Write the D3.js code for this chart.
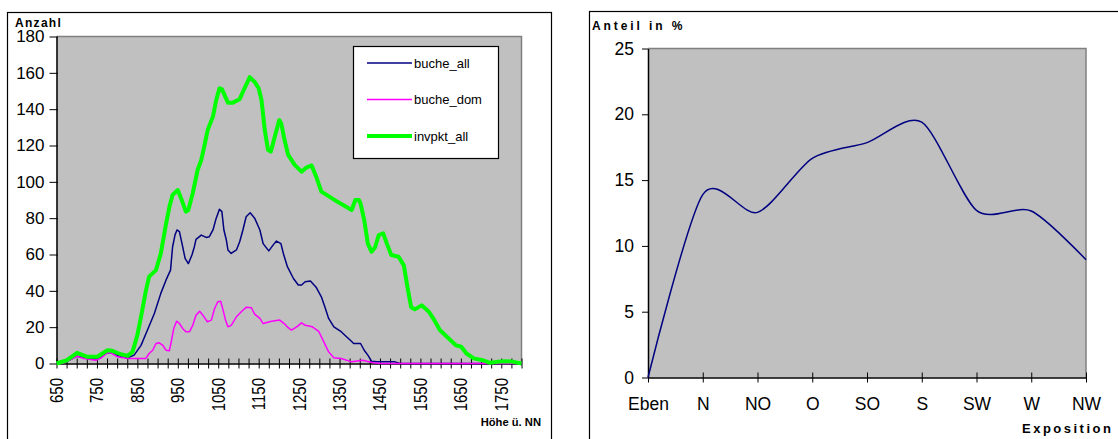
<!DOCTYPE html>
<html>
<head>
<meta charset="utf-8">
<script src="https://cdn.jsdelivr.net/npm/d3@7"></script>
<style>
  body { margin: 0; background: #fff; }
  text { font-family: Arial, "Liberation Sans", sans-serif; }
</style>
</head>
<body>
<svg id="chart" width="1118" height="439"></svg>
<script>
// left chart: Höhe ü. NN vs Anzahl
let allAlt = [650,675,700,725,750,775,790,805,826,842,859,875,892,908,921,932,937,943,948,954,962,968,976,985,991,995,1008,1020,1028,1037,1045,1053,1059,1064,1070,1074,1082,1095,1103,1111,1119,1129,1140,1153,1161,1175,1186,1194,1205,1211,1221,1236,1248,1256,1265,1278,1292,1305,1314,1323,1336,1354,1376,1385,1402,1411,1420,1429,1442,1487,1500,1800];
let allN = [0,1,4,3,2.5,5.8,6,4,3.2,4.6,10,18.4,27.5,38.6,46,51.4,64,70.7,73.5,72.6,64.3,57.9,55,59.7,64.3,68.3,70.7,69.4,69.8,73.5,80,84.9,83.6,73.5,68,62.5,60.6,62.5,67,73.5,80.8,83,80,73.5,66,62,65.3,67.4,66,60.6,53.3,46.8,43.2,43.2,45,45.4,42,36.7,31,24.8,20.2,17.5,12.9,11,11,7.3,4.6,1.3,0.9,0.9,0,0];

let domAlt = [650,668,701,718,747,759,776,784,801,826,871,879,888,896,904,913,921,929,933,940,947,954,962,970,979,987,995,1004,1012,1023,1033,1041,1049,1056,1062,1068,1074,1082,1095,1107,1119,1132,1140,1153,1161,1182,1202,1213,1223,1231,1244,1256,1265,1283,1299,1309,1323,1336,1354,1380,1407,1433,1451,1800];
let domN = [0,0.4,4,2.8,1.8,2.8,5.9,5.9,3.7,2.8,2.8,5.5,7.3,11,11.4,10,7.3,7,11,19.3,23.3,22,19.3,17.5,17.5,21,26.6,28.8,26.6,23,23.9,30.3,34,34.3,29.4,23.9,20.2,21,25.7,28.5,30.9,30.7,27.2,24.8,22,23.3,23.9,22,19.7,18.4,20.2,22.4,21,20.2,17.5,12.9,6.4,3.1,2.8,0.9,1.8,0.4,0,0];

let invAlt = [650,676,701,726,751,776,788,809,826,838,850,859,871,879,896,908,921,929,937,950,958,970,976,987,999,1008,1016,1024,1037,1045,1053,1059,1074,1086,1103,1115,1128,1140,1150,1157,1165,1173,1180,1190,1201,1206,1214,1223,1239,1256,1269,1281,1292,1305,1318,1345,1380,1389,1398,1402,1411,1420,1429,1438,1447,1458,1467,1478,1496,1509,1518,1527,1536,1553,1571,1584,1598,1620,1638,1651,1664,1682,1704,1722,1740,1762,1780,1800];
let invN = [0,1.8,5.9,3.7,3.7,7.3,7,5.1,4.2,6.4,15.6,25.7,40,47.8,51.4,60.6,77,86,92.8,95.5,91,83.6,84.5,93.7,106.5,112,120,128.6,136,145,151.5,151,143.6,143.6,145.5,151.5,157.6,155,151.5,145,128.6,117.6,116.6,125,134,132,123,114.8,109.3,105.6,108,109,103,94.6,92.8,89,84.5,90,90,88,79,66,61.5,64,70.7,71.6,66,59.7,58.8,54,42,31,29.8,32,28.5,24,18.4,13.8,10,9.2,5.5,2.8,1.8,0.4,0.9,1.3,0.9,0];

let leftYTicks = [0,20,40,60,80,100,120,140,160,180];
let leftXLabels = [650,750,850,950,1050,1150,1250,1350,1450,1550,1650,1750];

// right chart: Exposition vs Anteil in %
let expCats = ["Eben","N","NO","O","SO","S","SW","W","NW"];
let expShare = [0,13.9,12.55,16.65,17.85,19.4,12.7,12.65,8.95];
let rightYTicks = [0,5,10,15,20,25];

const svg = d3.select("#chart");

// ---------- left chart ----------
const L = { left: 56.5, right: 521.5, top: 36.5, bottom: 363.5 };

svg.append("rect")
  .attr("x", 7.5).attr("y", 12.5)
  .attr("width", 544).attr("height", 440)
  .attr("fill", "none").attr("stroke", "#000").attr("stroke-width", 1.2);

let xL = d3.scaleLinear().domain([650, 1800]).range([L.left, L.right]);
let yL = d3.scaleLinear().domain([0, 180]).range([L.bottom, L.top]);

svg.append("rect")
  .attr("x", L.left).attr("y", L.top)
  .attr("width", L.right - L.left).attr("height", L.bottom - L.top)
  .attr("fill", "#c0c0c0");
svg.append("path")
  .attr("d", `M${L.left},${L.top}H${L.right}V${L.bottom}`)
  .attr("fill", "none").attr("stroke", "#808080").attr("stroke-width", 1.5);

let yAxisL = svg.append("g")
  .attr("transform", `translate(${L.left},0)`)
  .call(d3.axisLeft(yL).tickValues(leftYTicks).tickSizeInner(7).tickSizeOuter(0).tickPadding(5));
yAxisL.selectAll("text").attr("font-size", 17).attr("font-family", "Arial, 'Liberation Sans'").attr("fill", "#000");
yAxisL.selectAll("line").attr("x2", -7).attr("x1", 1.5);

let xAxisL = svg.append("g")
  .attr("transform", `translate(0,${L.bottom})`)
  .call(d3.axisBottom(xL).tickValues(d3.range(650, 1801, 25)).tickSizeInner(5).tickSizeOuter(0).tickFormat(""));
xAxisL.selectAll("line").attr("y1", -5).attr("y2", 5);
svg.selectAll(".domain").attr("stroke", "#000").attr("stroke-width", 1.5);

svg.append("clipPath").attr("id", "lblclip")
  .append("rect").attr("x", 0).attr("y", 0).attr("width", 560).attr("height", 414);

svg.append("g").attr("clip-path", "url(#lblclip)")
  .selectAll("text.xl")
  .data(leftXLabels)
  .enter()
  .append("text")
  .attr("class", "xl")
  .attr("transform", d => `translate(${xL(d) + 6.5},378) scale(1.25,1) rotate(-90)`)
  .attr("text-anchor", "end")
  .attr("font-size", 15)
  .text(d => d);

svg.append("text")
  .attr("x", 15).attr("y", 26.5)
  .attr("font-size", 12).attr("font-weight", "bold").attr("letter-spacing", 1.3)
  .text("Anzahl");
svg.append("text")
  .attr("x", 541).attr("y", 426)
  .attr("text-anchor", "end")
  .attr("font-size", 11.2).attr("font-weight", "bold")
  .text("Höhe ü. NN");

let series = [
  { name: "buche_all", alt: allAlt, n: allN, color: "#000080", width: 1.5 },
  { name: "buche_dom", alt: domAlt, n: domN, color: "#ff00ff", width: 1.5 },
  { name: "invpkt_all", alt: invAlt, n: invN, color: "#00ff00", width: 4 }
];

let lineL = d3.line()
  .x(d => xL(d[0]))
  .y(d => yL(d[1]));

svg.append("g")
  .selectAll("path")
  .data(series)
  .enter()
  .append("path")
  .attr("d", s => lineL(d3.zip(s.alt, s.n)))
  .attr("fill", "none")
  .attr("stroke", s => s.color)
  .attr("stroke-width", s => s.width)
  .attr("stroke-linejoin", "round");

let legend = svg.append("g");
legend.append("rect")
  .attr("x", 353.5).attr("y", 46.5).attr("width", 145).attr("height", 112)
  .attr("fill", "#fff").attr("stroke", "#000").attr("stroke-width", 1.2);
let item = legend.selectAll("g.item")
  .data(series)
  .enter()
  .append("g")
  .attr("transform", (d, i) => `translate(0,${63 + i * 36.5})`);
item.append("line")
  .attr("x1", 367).attr("x2", 412)
  .attr("stroke", d => d.color).attr("stroke-width", d => d.width);
item.append("text")
  .attr("x", 414).attr("y", 4.5)
  .attr("font-size", 13)
  .text(d => d.name);

// ---------- right chart ----------
const R = { left: 648, right: 1086, top: 48.5, bottom: 377.5 };

svg.append("rect")
  .attr("x", 589.5).attr("y", 11.5)
  .attr("width", 600).attr("height", 440)
  .attr("fill", "none").attr("stroke", "#000").attr("stroke-width", 1.2);

let xR = d3.scalePoint().domain(expCats).range([R.left, R.right]);
let yR = d3.scaleLinear().domain([0, 25]).range([R.bottom, R.top]);

svg.append("rect")
  .attr("x", R.left).attr("y", R.top)
  .attr("width", R.right - R.left).attr("height", R.bottom - R.top)
  .attr("fill", "#c0c0c0");
svg.append("path")
  .attr("d", `M${R.left},${R.top}H${R.right}V${R.bottom}`)
  .attr("fill", "none").attr("stroke", "#808080").attr("stroke-width", 1.5);

let yAxisR = svg.append("g")
  .attr("transform", `translate(${R.left},0)`)
  .call(d3.axisLeft(yR).tickValues(rightYTicks).tickSizeInner(6).tickSizeOuter(0).tickPadding(8));
yAxisR.selectAll("text").attr("font-size", 17.5).attr("font-family", "Arial, 'Liberation Sans'").attr("fill", "#000");

let xAxisR = svg.append("g")
  .attr("transform", `translate(0,${R.bottom})`)
  .call(d3.axisBottom(xR).tickSizeInner(5).tickSizeOuter(0).tickPadding(15));
xAxisR.selectAll("line").attr("y1", -5).attr("y2", 5);
xAxisR.selectAll("text").attr("font-size", 17.5).attr("font-family", "Arial, 'Liberation Sans'").attr("fill", "#000");
svg.selectAll(".domain").attr("stroke", "#000").attr("stroke-width", 1.5);

svg.append("text")
  .attr("x", 592).attr("y", 30)
  .attr("font-size", 12).attr("font-weight", "bold").attr("letter-spacing", 2.9)
  .text("Anteil in %");
svg.append("text")
  .attr("x", 1022).attr("y", 433)
  .attr("font-size", 13).attr("font-weight", "bold").attr("letter-spacing", 2.5)
  .text("Exposition");

let lineR = d3.line()
  .x(d => xR(d[0]))
  .y(d => yR(d[1]))
  .curve(d3.curveCardinal.tension(0.2));

svg.append("path")
  .attr("d", lineR(d3.zip(expCats, expShare)))
  .attr("fill", "none")
  .attr("stroke", "#000080")
  .attr("stroke-width", 1.5);
</script>
</body>
</html>
